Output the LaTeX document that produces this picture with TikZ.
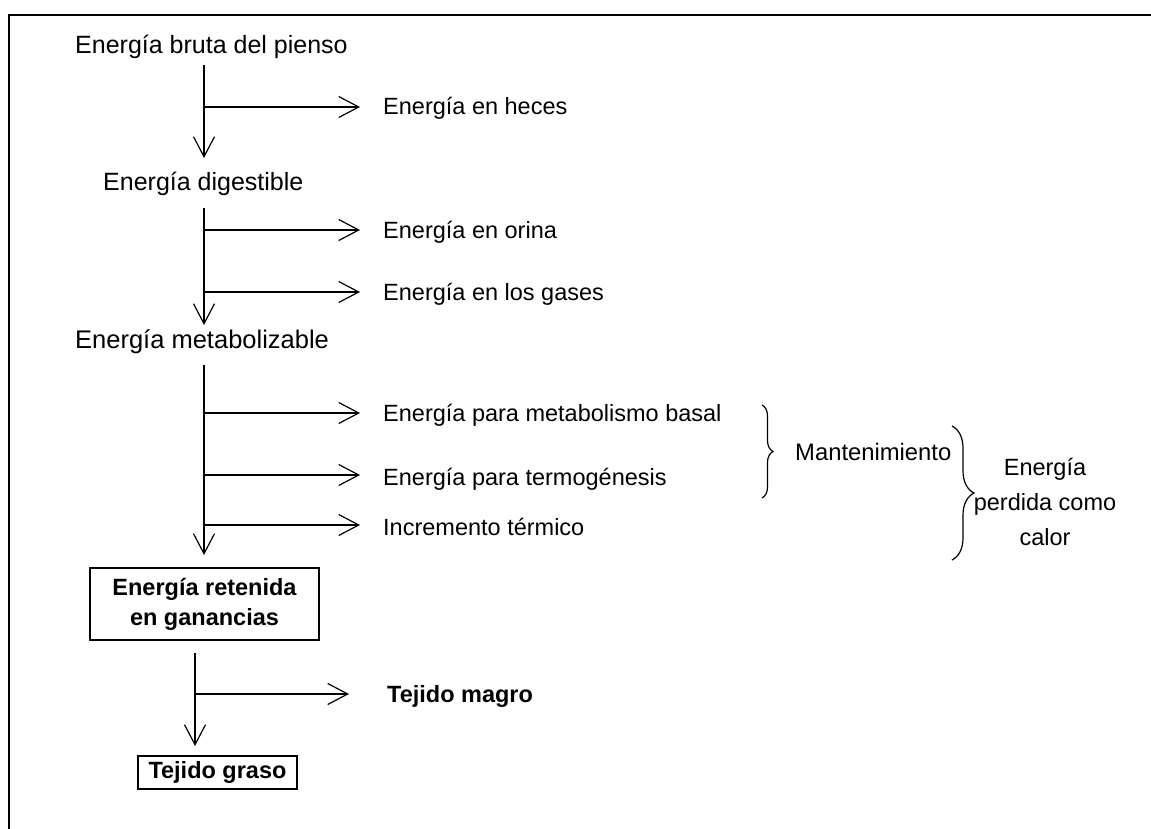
\documentclass[tikz,border=0pt]{standalone}
\usepackage{fontspec}
\setmainfont{Liberation Sans}
\usetikzlibrary{arrows.meta,decorations.pathreplacing}
\begin{document}
\begin{tikzpicture}[x=1pt,y=-1pt,
  ln/.style={line width=1.2pt},
  arr/.style={ln,-{Straight Barb[length=20pt,width=21pt,line width=1.2pt]}},
  lbl/.style={anchor=base west,inner sep=0pt,font=\fontsize{23.5}{28}\selectfont},
  mainlbl/.style={lbl,font=\fontsize{25}{30}\selectfont},
  boxn/.style={draw,line width=1.2pt,align=center,inner sep=0pt,font=\fontsize{23.5}{30}\selectfont\bfseries},
  brc/.style={ln,decorate,decoration={brace,amplitude=#1}}]
\useasboundingbox (0,0) rectangle (1151,829);
% frame
\draw[line width=1.6pt] (9,829) -- (9,15) -- (1151,15);
% texts
\node[mainlbl] (t0) at (75,54) {Energía bruta del pienso};
\node[lbl] (t1) at (383,115) {Energía en heces};
\node[mainlbl] (t2) at (103,191) {Energía digestible};
\node[lbl] (t3) at (383,238) {Energía en orina};
\node[lbl] (t4) at (383,300) {Energía en los gases};
\node[mainlbl,font=\fontsize{25.5}{30}\selectfont] (t5) at (75,348) {Energía metabolizable};
\node[lbl] (t6) at (383,421) {Energía para metabolismo basal};
\node[lbl] (t7) at (383,485) {Energía para termogénesis};
\node[lbl] (t8) at (383,535) {Incremento térmico};
\node[lbl,font=\fontsize{23.5}{28}\selectfont\bfseries] (t9) at (387,702) {Tejido magro};
\node[boxn,minimum width=229pt,minimum height=72pt] (b1) at (204.5,604) {Energía retenida\\en ganancias};
\node[boxn,minimum width=159pt,minimum height=33pt] (b2) at (217.5,772.5) {Tejido graso};
\node[lbl,font=\fontsize{23.8}{29}\selectfont] (m) at (795,460) {Mantenimiento};
\node[align=center,inner sep=0pt,font=\fontsize{23.5}{35}\selectfont] (pc) at (1045,502) {Energía\\perdida como\\calor};
% coordinates
\coordinate (a0) at (204,65);  \coordinate (a0e) at (204,158);
\coordinate (h1) at (204,107); \coordinate (h1e) at (360,107);
\coordinate (a1) at (204,208); \coordinate (a1e) at (204,325);
\coordinate (h2) at (204,230); \coordinate (h2e) at (360,230);
\coordinate (h3) at (204,292); \coordinate (h3e) at (360,292);
\coordinate (a2) at (204,365); \coordinate (a2e) at (204,555);
\coordinate (h4) at (204,413); \coordinate (h4e) at (360,413);
\coordinate (h5) at (204,475); \coordinate (h5e) at (360,475);
\coordinate (h6) at (204,525); \coordinate (h6e) at (360,525);
\coordinate (a3) at (195,653); \coordinate (a3e) at (195,746);
\coordinate (h7) at (195,694); \coordinate (h7e) at (349,694);
% arrows
\draw[arr] (a0) -- (a0e);
\draw[arr] (h1) -- (h1e);
\draw[arr] (a1) -- (a1e);
\draw[arr] (h2) -- (h2e);
\draw[arr] (h3) -- (h3e);
\draw[arr] (a2) -- (a2e);
\draw[arr] (h4) -- (h4e);
\draw[arr] (h5) -- (h5e);
\draw[arr] (h6) -- (h6e);
\draw[arr] (a3) -- (a3e);
\draw[arr] (h7) -- (h7e);
% braces
\coordinate (c1) at (762,405); \coordinate (c1e) at (762,498);
\coordinate (c2) at (952,426); \coordinate (c2e) at (952,560);
\draw[brc=11pt] (c1) -- (c1e);
\draw[brc=22pt] (c2) -- (c2e);
\end{tikzpicture}
\end{document}
